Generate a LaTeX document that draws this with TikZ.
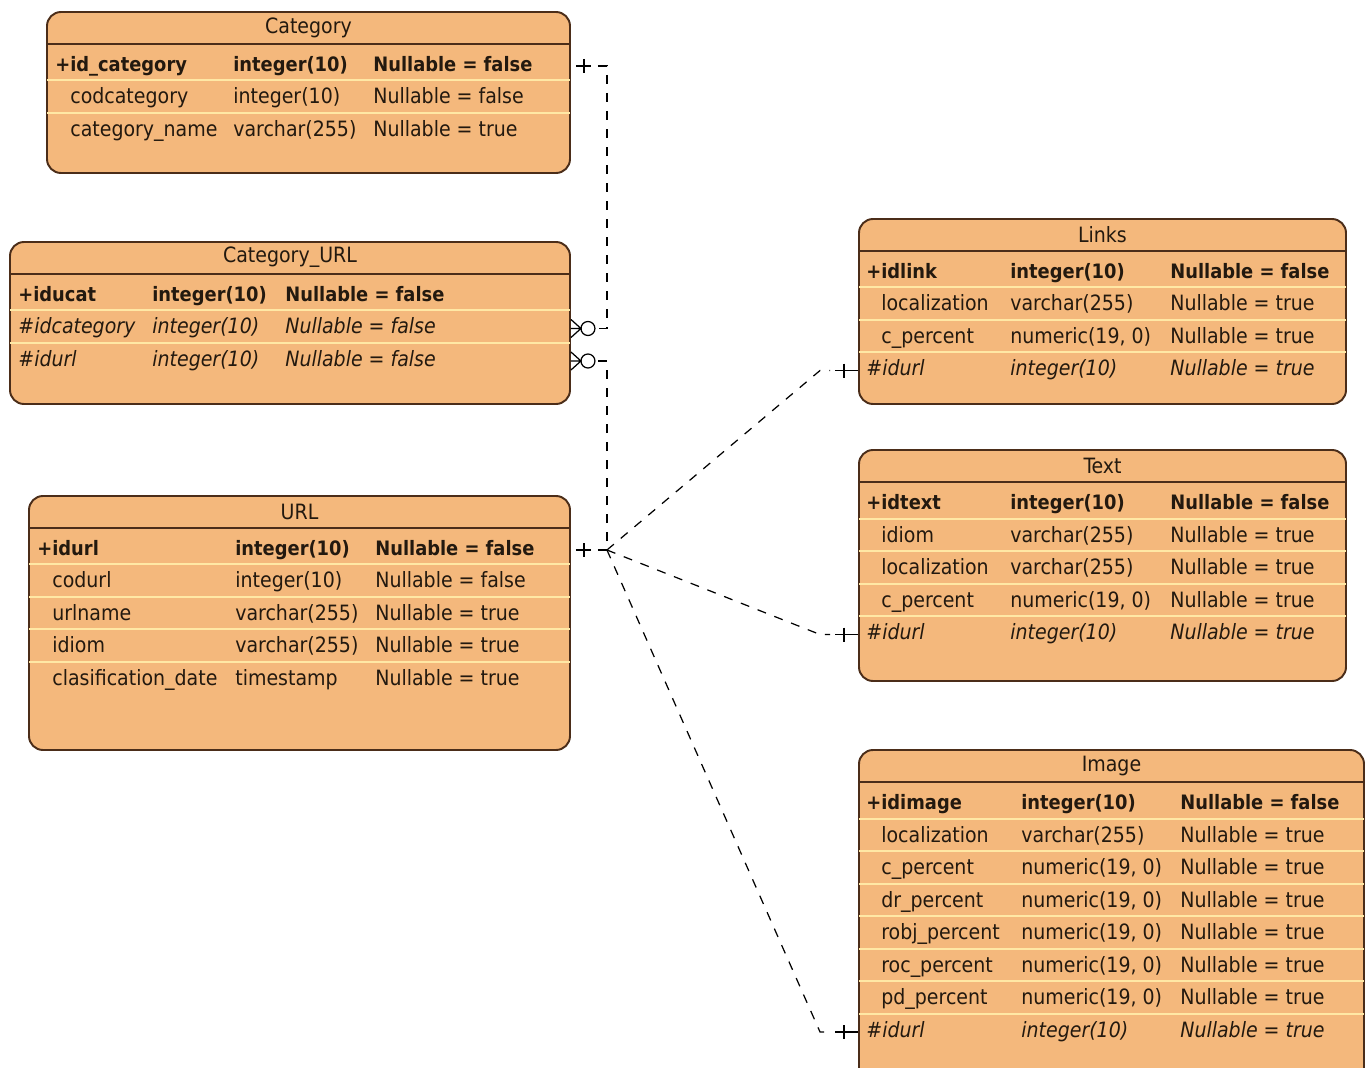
\documentclass[tikz,border=0pt]{standalone}
\usepackage{fontspec}
\setmainfont{DejaVu Sans Condensed}
\usepackage{tikz}
\usetikzlibrary{calc,fit}

\definecolor{naranja}{RGB}{244,184,124}
\definecolor{borde}{RGB}{75,45,25}
\definecolor{raya}{RGB}{255,232,165}
\definecolor{tinta}{RGB}{35,25,15}

\begin{document}
\begin{tikzpicture}[x=0.2mm, y=-0.2mm,
  tabla/.style={draw=borde, fill=naranja, line width=1.1pt, rounded corners=2.8mm, inner sep=0pt},
  cab/.style={draw=borde, line width=1.1pt},
  sep/.style={draw=raya, line width=1.2pt, shorten <=0.8pt, shorten >=0.8pt},
  titulo/.style={font=\fontsize{12}{14}\selectfont, text=tinta, inner sep=0pt},
  celda/.style={anchor=west, font=\fontsize{12}{14}\selectfont, text=tinta, inner sep=0pt,
                text height=8.5pt, text depth=2.5pt, yshift=-0.4mm},
  pk/.style={font=\fontsize{11.3}{13}\selectfont\bfseries},
  fk/.style={font=\fontsize{12}{14}\selectfont\itshape},
  pl/.style={},
  xpk/.style={}, xfk/.style={}, xpl/.style={xshift=3mm},
  rel/.style={draw=black, line width=0.7pt, dash pattern=on 1.8mm off 1.8mm},
  marca/.style={draw=black, line width=0.7pt},
]
  \clip (0,0) rectangle (1368,1068);

  % Tablas de la izquierda
  \node[tabla, fit={(47,12) (570,173)}] (cat) {};
  \node[titulo] at ($(cat.north)+(0,16.5)$) {Category};
  \draw[cab] ($(cat.north west)+(0,33)$) -- ($(cat.north east)+(0,33)$);
  \foreach \s/\n/\t/\v [count=\i] in {pk/+id\_category/integer(10)/Nullable = false,
      pl/codcategory/integer(10)/Nullable = false, pl/category\_name/varchar(255)/Nullable = true}{
    \ifnum\i>1 \draw[sep] (cat.west|-0,15.25+32.5*\i) -- (cat.east|-0,15.25+32.5*\i); \fi
    \node[celda,\s,x\s] (cat-\i) at (55,31.5+32.5*\i) {\n};
    \node[celda,\s] at (233,31.5+32.5*\i) {\t};
    \node[celda,\s] at (373,31.5+32.5*\i) {\v};
  }

  \node[tabla, fit={(10,242) (570,404)}] (cu) {};
  \node[titulo] at ($(cu.north)+(0,16.5)$) {Category\_URL};
  \draw[cab] ($(cu.north west)+(0,33)$) -- ($(cu.north east)+(0,33)$);
  \foreach \s/\n/\t/\v [count=\i] in {pk/+iducat/integer(10)/Nullable = false,
      fk/\#idcategory/integer(10)/Nullable = false, fk/\#idurl/integer(10)/Nullable = false}{
    \ifnum\i>1 \draw[sep] (cu.west|-0,245.25+32.5*\i) -- (cu.east|-0,245.25+32.5*\i); \fi
    \node[celda,\s,x\s] (cu-\i) at (18,261.5+32.5*\i) {\n};
    \node[celda,\s] at (152,261.5+32.5*\i) {\t};
    \node[celda,\s] at (285,261.5+32.5*\i) {\v};
  }

  \node[tabla, fit={(29,496) (570,750)}] (url) {};
  \node[titulo] at ($(url.north)+(0,16.5)$) {URL};
  \draw[cab] ($(url.north west)+(0,33)$) -- ($(url.north east)+(0,33)$);
  \foreach \s/\n/\t/\v [count=\i] in {pk/+idurl/integer(10)/Nullable = false,
      pl/codurl/integer(10)/Nullable = false, pl/urlname/varchar(255)/Nullable = true,
      pl/idiom/varchar(255)/Nullable = true, pl/clasification\_date/timestamp/Nullable = true}{
    \ifnum\i>1 \draw[sep] (url.west|-0,499.25+32.5*\i) -- (url.east|-0,499.25+32.5*\i); \fi
    \node[celda,\s,x\s] (url-\i) at (37,515.5+32.5*\i) {\n};
    \node[celda,\s] at (235,515.5+32.5*\i) {\t};
    \node[celda,\s] at (375,515.5+32.5*\i) {\v};
  }

  % Tablas de la derecha
  \node[tabla, fit={(859,219) (1346,404)}] (lnk) {};
  \node[titulo] at ($(lnk.north)+(0,16.5)$) {Links};
  \draw[cab] ($(lnk.north west)+(0,33)$) -- ($(lnk.north east)+(0,33)$);
  \foreach \s/\n/\t/\v [count=\i] in {pk/+idlink/integer(10)/Nullable = false,
      pl/localization/varchar(255)/Nullable = true, pl/c\_percent/{numeric(19, 0)}/Nullable = true,
      fk/\#idurl/integer(10)/Nullable = true}{
    \ifnum\i>1 \draw[sep] (lnk.west|-0,222.25+32.5*\i) -- (lnk.east|-0,222.25+32.5*\i); \fi
    \node[celda,\s,x\s] (lnk-\i) at (866,238.5+32.5*\i) {\n};
    \node[celda,\s] at (1010,238.5+32.5*\i) {\t};
    \node[celda,\s] at (1170,238.5+32.5*\i) {\v};
  }

  \node[tabla, fit={(859,450) (1346,681)}] (txt) {};
  \node[titulo] at ($(txt.north)+(0,16.5)$) {Text};
  \draw[cab] ($(txt.north west)+(0,33)$) -- ($(txt.north east)+(0,33)$);
  \foreach \s/\n/\t/\v [count=\i] in {pk/+idtext/integer(10)/Nullable = false,
      pl/idiom/varchar(255)/Nullable = true, pl/localization/varchar(255)/Nullable = true,
      pl/c\_percent/{numeric(19, 0)}/Nullable = true, fk/\#idurl/integer(10)/Nullable = true}{
    \ifnum\i>1 \draw[sep] (txt.west|-0,453.75+32.5*\i) -- (txt.east|-0,453.75+32.5*\i); \fi
    \node[celda,\s,x\s] (txt-\i) at (866,470+32.5*\i) {\n};
    \node[celda,\s] at (1010,470+32.5*\i) {\t};
    \node[celda,\s] at (1170,470+32.5*\i) {\v};
  }

  \node[tabla, fit={(859,750) (1364,1090)}] (img) {};
  \node[titulo] at ($(img.north)+(0,16.5)$) {Image};
  \draw[cab] ($(img.north west)+(0,33)$) -- ($(img.north east)+(0,33)$);
  \foreach \s/\n/\t/\v [count=\i] in {pk/+idimage/integer(10)/Nullable = false,
      pl/localization/varchar(255)/Nullable = true, pl/c\_percent/{numeric(19, 0)}/Nullable = true,
      pl/dr\_percent/{numeric(19, 0)}/Nullable = true, pl/robj\_percent/{numeric(19, 0)}/Nullable = true,
      pl/roc\_percent/{numeric(19, 0)}/Nullable = true, pl/pd\_percent/{numeric(19, 0)}/Nullable = true,
      fk/\#idurl/integer(10)/Nullable = true}{
    \ifnum\i>1 \draw[sep] (img.west|-0,753.75+32.5*\i) -- (img.east|-0,753.75+32.5*\i); \fi
    \node[celda,\s,x\s] (img-\i) at (866,770+32.5*\i) {\n};
    \node[celda,\s] at (1021,770+32.5*\i) {\t};
    \node[celda,\s] at (1180,770+32.5*\i) {\v};
  }

  % Relaciones (lineas punteadas)
  \draw[rel] ($(cat.east|-cat-1)+(27,0)$) -- ++(9,0) |- ($(cu.east|-cu-2)+(24,0)$);
  \draw[rel] ($(url.east|-url-1)+(27,0)$) -- ++(9,0) |- ($(cu.east|-cu-3)+(24,0)$);
  \foreach \t/\r in {lnk/4, txt/5, img/8}
    \draw[rel] ($(url.east|-url-1)+(36,0)$) -- ($(\t.west|-\t-\r)+(-38,0)$) -- ++(10,0);

  % Extremos: uno
  \draw[marca] ($(cat.east|-cat-1)+(5,0)$) -- ++(15,0) ++(-7,-7) -- ++(0,14);
  \draw[marca] ($(url.east|-url-1)+(5,0)$) -- ++(15,0) ++(-7,-7) -- ++(0,14);
  \foreach \t/\r in {lnk/4, txt/5, img/8}
    \draw[marca] ($(\t.west|-\t-\r)+(-23,0)$) -- ++(23,0) ++(-14,-7) -- ++(0,14);

  % Extremos: cero o muchos
  \foreach \r in {2,3}{
    \draw[marca] ($(cu.east|-cu-\r)+(17,0)$) circle[radius=1.4mm];
    \draw[marca] (cu.east|-cu-\r) ++(0,-9) -- ++(10,9) -- ++(-10,9) ++(0,-9) -- ++(10,0);
  }
\end{tikzpicture}
\end{document}
